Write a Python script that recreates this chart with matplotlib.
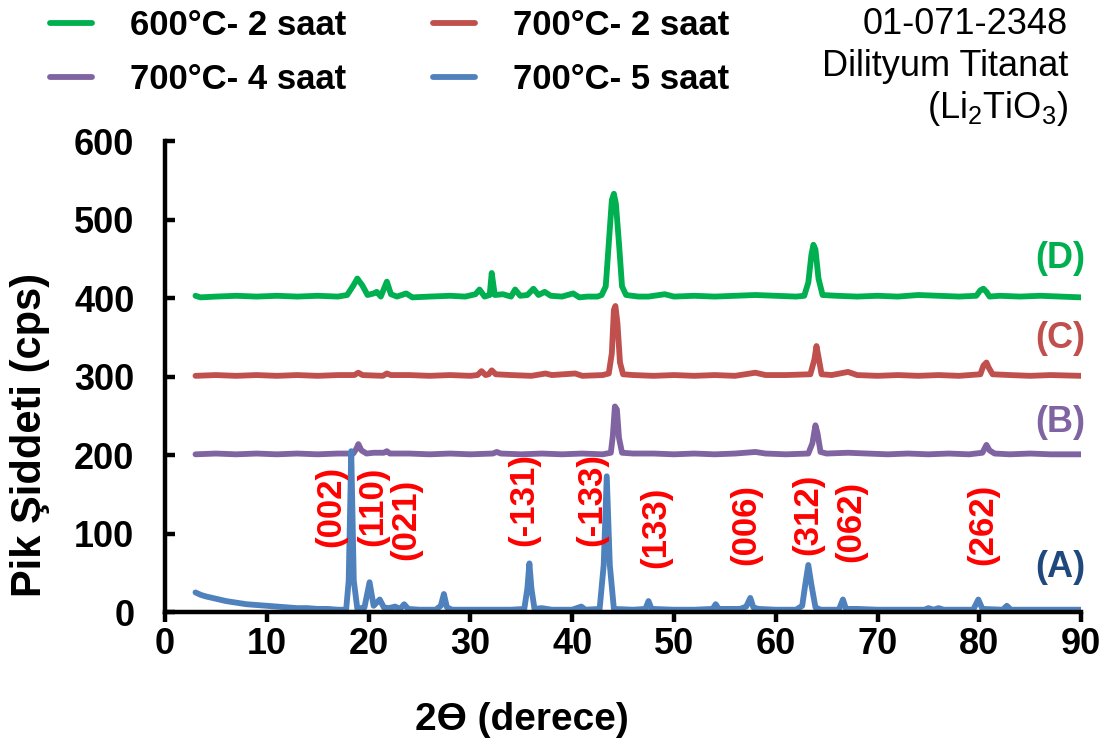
import numpy as np
import matplotlib.pyplot as plt

plt.rcParams['font.family'] = ['Liberation Sans', 'DejaVu Sans']
plt.rcParams['mathtext.fontset'] = 'custom'
plt.rcParams['mathtext.rm'] = 'Liberation Sans'
plt.rcParams['mathtext.default'] = 'regular'

# okunan noktalar (2theta, cps)
seri_a = [(3.0, 25), (3.5, 22), (4, 20), (5, 17), (6, 14), (7, 12), (8, 10), (9, 9), (10, 8),
          (11, 7), (12, 6), (13, 5), (14, 5), (15, 4), (16, 4), (17, 3), (17.8, 3), (18.05, 40),
          (18.3, 205), (18.55, 40), (18.9, 4), (19.6, 6), (20.1, 38), (20.5, 8), (21.1, 16),
          (21.5, 6), (22.0, 5), (22.6, 7), (23.1, 4), (23.5, 10), (23.9, 4), (25, 3), (26.6, 3),
          (27.1, 8), (27.4, 23), (27.7, 6), (28.2, 3), (30, 3), (32, 3), (34, 3), (35.3, 4),
          (35.6, 30), (35.8, 62), (36.0, 30), (36.3, 4), (37.0, 5), (38, 3), (40, 3), (40.9, 7),
          (41.3, 3), (42.7, 4), (43.1, 60), (43.4, 173), (43.7, 60), (44.1, 4), (46, 3),
          (47.2, 4), (47.5, 14), (47.8, 4), (50, 3), (52, 3), (53.8, 4), (54.1, 10), (54.4, 4),
          (55.5, 4), (56.5, 4), (57.1, 7), (57.5, 18), (57.8, 6), (58.3, 4), (60, 3), (62, 3),
          (62.6, 8), (62.9, 35), (63.2, 60), (63.5, 35), (63.9, 6), (64.4, 3), (66.2, 3),
          (66.6, 16), (66.9, 4), (68, 4), (70, 3), (72, 3), (74.6, 3), (75.0, 5), (75.5, 3),
          (76.0, 5), (76.5, 3), (79.4, 3), (79.9, 16), (80.3, 4), (82.3, 3), (82.7, 8),
          (83.1, 3), (85, 3), (87, 3), (90, 3)]

seri_b = [(3, 201), (5, 202), (7, 201), (9, 202), (11, 201), (13, 202), (15, 201), (17, 202),
          (18.5, 202), (18.8, 208), (19.0, 214), (19.3, 206), (19.8, 202), (20.5, 203),
          (21.5, 203), (21.8, 205), (22.1, 202), (24, 202), (26, 201), (28, 202), (30, 201),
          (32.2, 202), (32.6, 204), (33.0, 202), (35, 201), (37, 202), (39, 201), (41, 202),
          (43, 201), (43.8, 203), (44.0, 225), (44.2, 262), (44.4, 258), (44.6, 222),
          (44.9, 203), (46, 202), (48, 202), (50, 201), (52, 202), (54, 201), (56, 202),
          (58.0, 204), (59, 202), (61, 201), (63.2, 202), (63.6, 215), (63.9, 238), (64.1, 228),
          (64.4, 204), (65, 202), (67.1, 203), (69, 202), (71, 201), (73, 202), (75, 201),
          (77, 202), (79, 201), (80.3, 203), (80.7, 213), (81.0, 206), (81.5, 202), (83, 201),
          (85, 202), (87, 201), (90, 201)]

seri_c = [(3, 301), (5, 302), (7, 301), (9, 302), (11, 301), (13, 302), (15, 301), (17, 302),
          (18.6, 302), (19.0, 305), (19.4, 302), (21.4, 301), (21.8, 304), (22.2, 302),
          (24, 302), (26, 301), (28, 302), (30, 301), (30.7, 302), (31.1, 307), (31.5, 302),
          (31.8, 303), (32.1, 308), (32.5, 303), (34, 302), (36, 301), (37.4, 304), (38, 302),
          (40.3, 304), (41, 301), (43.0, 302), (43.6, 304), (43.9, 330), (44.1, 385),
          (44.25, 390), (44.45, 368), (44.7, 318), (45.0, 303), (46, 302), (48, 301), (50, 302),
          (52, 301), (54, 302), (56, 301), (58.0, 305), (59, 302), (61, 302), (63.4, 303),
          (63.8, 322), (64.0, 339), (64.2, 325), (64.5, 303), (65.5, 302), (67.1, 306),
          (68, 302), (70, 301), (72, 302), (74, 301), (76, 302), (78, 301), (80.1, 303),
          (80.4, 314), (80.7, 318), (80.9, 312), (81.3, 303), (83, 302), (85, 301), (87, 302),
          (90, 301)]

seri_d = [(3, 403), (3.5, 401), (5, 402), (7, 403), (9, 402), (11, 403), (13, 402), (15, 403),
          (17, 402), (17.9, 404), (18.5, 416), (18.9, 425), (19.4, 416), (19.9, 404),
          (20.5, 406), (20.8, 408), (21.2, 402), (21.8, 421), (22.2, 405), (22.8, 402),
          (23.7, 406), (24.3, 401), (26, 402), (28, 403), (29.5, 402), (30.5, 405), (30.9, 411),
          (31.4, 402), (31.9, 404), (32.1, 432), (32.4, 404), (33.2, 405), (34.0, 402),
          (34.4, 411), (34.9, 403), (35.6, 404), (36.2, 412), (36.7, 404), (37.3, 408),
          (37.9, 403), (39, 402), (40.1, 406), (40.7, 401), (41.5, 402), (42.5, 402),
          (42.9, 404), (43.3, 415), (43.6, 470), (43.9, 525), (44.1, 533), (44.3, 520),
          (44.6, 470), (44.9, 415), (45.3, 404), (46.5, 402), (47.5, 402), (49.1, 405),
          (50, 402), (52, 403), (54, 402), (56, 403), (58, 404), (60, 403), (62, 402),
          (62.8, 403), (63.2, 420), (63.5, 455), (63.7, 468), (63.9, 462), (64.2, 425),
          (64.6, 404), (66, 403), (68, 402), (70, 403), (72, 402), (74, 404), (76, 403),
          (78, 402), (79.7, 403), (80.1, 410), (80.4, 412), (80.7, 408), (81.0, 402), (82, 403),
          (84, 402), (86, 403), (88, 402), (90, 401)]

seriler = [seri_d, seri_b, seri_c, seri_a]
etiketler = ['600°C- 2 saat', '700°C- 4 saat', '700°C- 2 saat', '700°C- 5 saat']
renkler = ['#00B050', '#8064A2', '#C0504D', '#4F81BD']

# Miller indisleri
hkl = ['(002)', '(110)', '(021)', '(-131)', '(-133)', '(133)', '(006)', '(312)', '(062)', '(262)']
hkl_x = [16.3, 20.4, 23.7, 35.2, 41.9, 48.2, 57.1, 63.1, 67.4, 80.3]
hkl_y = [134, 135, 118, 143, 143, 108, 111, 124, 116, 112]

harfler = ['(D)', '(C)', '(B)', '(A)']
harf_y = [451, 349, 242, 57]
harf_renk = ['#00B050', '#C0504D', '#8064A2', '#1F497D']

fig = plt.figure(figsize=(11.1, 7.51), dpi=100)
ax = fig.add_axes([0.1486, 0.185, 0.8254, 0.627])

cizgiler = []
for pts, lab, c in zip(seriler, etiketler, renkler):
    x, y = zip(*pts)
    l, = ax.plot(x, y, color=c, lw=4.2, label=lab, solid_joinstyle='round', solid_capstyle='round')
    cizgiler.append(l)

for t, xx, yy in zip(hkl, hkl_x, hkl_y):
    ax.text(xx, yy, t, rotation=90, color='#FF0000', fontsize=25, fontweight='bold',
            ha='center', va='center')

for t, yy, c in zip(harfler, harf_y, harf_renk):
    ax.text(90.4, yy, t, color=c, fontsize=26, fontweight='bold', ha='right', va='center')

ax.set_xlim(0, 90)
ax.set_ylim(0, 600)
ax.set_xticks(np.arange(0, 91, 10))
ax.set_yticks(np.arange(0, 601, 100))
for s in ['top', 'right']:
    ax.spines[s].set_visible(False)
for s in ['left', 'bottom']:
    ax.spines[s].set_linewidth(3.2)
ax.tick_params(axis='x', direction='out', length=7, width=3.2, pad=4, labelsize=26)
ax.tick_params(axis='y', direction='in', length=7, width=3.2, pad=22, labelsize=26)
for lb in ax.get_xticklabels() + ax.get_yticklabels():
    lb.set_fontweight('bold')

fig.text(522 / 1110, 1 - 720 / 751, '2Ө (derece)', fontsize=28, fontweight='bold',
         ha='center', va='center')
fig.text(0.027, 1 - 597 / 751, 'Pik Şiddeti (cps)', fontsize=30, fontweight='bold', rotation=90,
         ha='center', va='bottom')

fig.legend(handles=cizgiler, loc='upper left', bbox_to_anchor=(50 / 1110, 1 - 9 / 751), ncol=2,
           frameon=False, prop={'size': 25, 'weight': 'bold'}, handlelength=1.2,
           handletextpad=1.1, columnspacing=2.5, labelspacing=0.6, borderpad=0.0,
           borderaxespad=0.0)

fig.text(1068 / 1110, 1 - 24 / 751, '01-071-2348', fontsize=26, ha='right', va='center')
fig.text(1068 / 1110, 1 - 67 / 751, 'Dilityum Titanat', fontsize=26, ha='right', va='center')
fig.text(1068 / 1110, 1 - 108 / 751, r'(Li$_2$TiO$_3$)', fontsize=26, ha='right', va='center')

fig.savefig('out.png', dpi=100)
